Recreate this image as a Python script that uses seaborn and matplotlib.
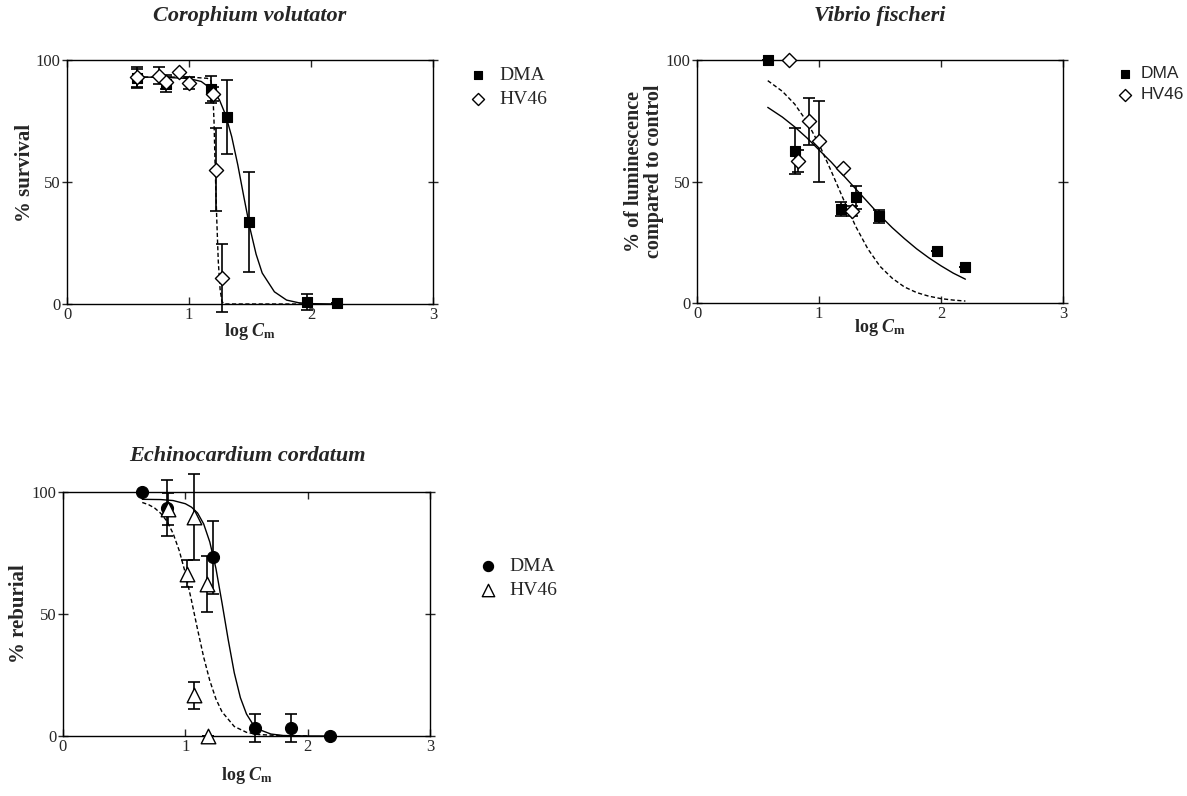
import matplotlib
matplotlib.use("Agg")
import matplotlib.pyplot as plt
import seaborn as sns

sns.set_style("ticks")
plt.rcParams['font.family'] = ['Liberation Serif', 'DejaVu Serif']
plt.rcParams['mathtext.fontset'] = 'custom'
plt.rcParams['mathtext.rm'] = 'Liberation Serif'
plt.rcParams['mathtext.it'] = 'Liberation Serif:italic'
plt.rcParams['mathtext.bf'] = 'Liberation Serif:bold'
plt.rcParams['mathtext.bfit'] = 'Liberation Serif:bold:italic'

# ---------------- data ----------------
# Corophium volutator
cv_dma_x = [0.577, 0.81, 1.18, 1.31, 1.49, 1.97, 2.21]
cv_dma_y = [92.5, 90.0, 88.0, 76.5, 33.6, 0.8, 0.4]
cv_dma_e = [4.0, 3.2, 5.6, 15.1, 20.3, 3.2, 0.0]
cv_hv_x = [0.577, 0.75, 0.81, 0.92, 1.00, 1.20, 1.22, 1.27]
cv_hv_y = [93.0, 93.5, 91.0, 95.0, 90.5, 86.0, 55.0, 10.6]
cv_hv_e = [4.0, 3.5, 3.0, 0.0, 2.5, 3.0, 17.0, 14.0]
cv_fit_dma_x = [0.577, 0.8, 1.0, 1.1, 1.2, 1.25, 1.3, 1.35, 1.4, 1.45, 1.5, 1.55, 1.6, 1.7, 1.8, 1.9, 2.0, 2.21]
cv_fit_dma_y = [93.0, 92.9, 92.4, 91.2, 87.5, 83.6, 77.5, 68.6, 57.0, 43.8, 31.0, 20.4, 12.7, 5.0, 1.6, 0.5, 0.15, 0.0]
cv_fit_hv_x = [0.577, 1.0, 1.15, 1.18, 1.195, 1.205, 1.215, 1.228, 1.24, 1.255, 1.27, 1.29, 2.0]
cv_fit_hv_y = [93.0, 93.0, 92.5, 91.5, 87.0, 75.0, 55.0, 34.0, 17.5, 6.0, 1.0, 0.0, 0.0]

# Vibrio fischeri
vf_dma_x = [0.58, 0.80, 1.18, 1.30, 1.49, 1.97, 2.20]
vf_dma_y = [100.0, 62.4, 38.7, 43.5, 35.7, 21.3, 14.9]
vf_dma_e = [0.0, 9.5, 2.7, 4.8, 2.7, 0.0, 0.0]
vf_hv_x = [0.75, 0.83, 0.92, 1.00, 1.20, 1.27]
vf_hv_y = [100.0, 58.3, 74.7, 66.5, 55.4, 38.0]
vf_hv_e = [0.0, 4.5, 9.7, 16.5, 0.0, 2.0]
vf_fit_dma_x = [0.58, 0.7, 0.8, 0.9, 1.0, 1.1, 1.2, 1.3, 1.4, 1.5, 1.6, 1.7, 1.8, 1.9, 2.0, 2.1, 2.2]
vf_fit_dma_y = [80.5, 76.5, 72.5, 68.0, 63.0, 58.0, 52.5, 47.0, 41.5, 36.0, 31.0, 26.5, 22.3, 18.6, 15.3, 12.3, 9.8]
vf_fit_hv_x = [0.58, 0.7, 0.8, 0.9, 1.0, 1.1, 1.2, 1.3, 1.4, 1.5, 1.6, 1.7, 1.8, 1.9, 2.0, 2.1, 2.2]
vf_fit_hv_y = [91.5, 87.1, 81.9, 74.7, 65.4, 54.3, 42.7, 31.6, 22.3, 15.1, 10.2, 6.6, 4.3, 2.8, 1.8, 1.2, 0.8]

# Echinocardium cordatum
ec_dma_x = [0.648, 0.85, 1.224, 1.567, 1.86, 2.18]
ec_dma_y = [100.0, 93.4, 73.2, 3.3, 3.3, 0.0]
ec_dma_e = [0.0, 11.6, 15.0, 5.6, 5.6, 0.0]
ec_hv_x = [0.857, 1.015, 1.07, 1.07, 1.175, 1.185]
ec_hv_y = [93.0, 66.5, 89.8, 16.7, 62.4, 0.0]
ec_hv_e = [6.5, 5.5, 17.5, 5.6, 11.4, 0.0]
ec_fit_dma_x = [0.648, 0.8, 0.9, 1.0, 1.05, 1.1, 1.15, 1.2, 1.25, 1.3, 1.35, 1.4, 1.45, 1.5, 1.55, 1.6, 1.7, 1.8, 2.0, 2.18]
ec_fit_dma_y = [97.0, 96.9, 96.5, 95.2, 93.8, 91.4, 86.9, 79.5, 68.7, 54.5, 39.6, 25.9, 15.7, 9.0, 5.0, 2.7, 0.8, 0.2, 0.01, 0.0]
ec_fit_hv_x = [0.648, 0.7, 0.75, 0.8, 0.85, 0.9, 0.95, 1.0, 1.05, 1.1, 1.15, 1.2, 1.25, 1.3, 1.4, 1.5, 1.6, 1.8, 2.0]
ec_fit_hv_y = [95.7, 94.8, 93.4, 91.2, 88.0, 83.0, 76.0, 66.8, 55.6, 43.7, 32.3, 22.7, 15.2, 9.9, 3.9, 1.5, 0.6, 0.1, 0.0]

x_ticks = [0, 1, 2, 3]
y_ticks = [0, 50, 100]
series_labels = ['DMA', 'HV46']

# ---------------- figure ----------------
W, H = 1187, 796
fig = plt.figure(figsize=(W / 100, H / 100), dpi=100)


def px_axes(l, t, r, b):
    return fig.add_axes([l / W, 1 - b / H, (r - l) / W, (b - t) / H])


ax1 = px_axes(67, 60, 433, 304)
ax2 = px_axes(697, 60, 1063, 303)
ax3 = px_axes(63, 492, 430, 736)

line_kw = dict(color='black', linewidth=1.0, estimator=None, sort=False, legend=False)
eb_kw = dict(fmt='none', ecolor='black', elinewidth=1.2, capsize=4.5, capthick=1.2, clip_on=False, zorder=2)


def style_axes(ax):
    ax.set_xlim(0, 3)
    ax.set_ylim(0, 100)
    ax.set_xticks(x_ticks)
    ax.set_yticks(y_ticks)
    for s in ax.spines.values():
        s.set_visible(True)
        s.set_linewidth(1.0)
        s.set_color('black')
    ax.tick_params(axis='x', which='both', direction='in', top=True, bottom=True,
                   length=5, width=1.0, labelsize=12, pad=2)
    ax.tick_params(axis='y', which='both', direction='inout', left=True, right=True,
                   length=7, width=1.0, labelsize=12, pad=1)
    for lab in ax.get_xticklabels() + ax.get_yticklabels():
        lab.set_family('Liberation Serif')
    ax.grid(False)
    ax.set_facecolor('white')


def panel(ax, dx, dy, de, hx, hy, he, fdx, fdy, fhx, fhy, m1, m2, s1, s2):
    sns.lineplot(x=fdx, y=fdy, ax=ax, linestyle='-', **line_kw)
    sns.lineplot(x=fhx, y=fhy, ax=ax, linestyle=(0, (3, 1.8)), **line_kw)
    ax.errorbar(dx, dy, yerr=de, **eb_kw)
    ax.errorbar(hx, hy, yerr=he, **eb_kw)
    sns.scatterplot(x=dx, y=dy, ax=ax, marker=m1, s=s1, color='black', edgecolor='black',
                    linewidth=0.8, label=series_labels[0], clip_on=False, zorder=4)
    sns.scatterplot(x=hx, y=hy, ax=ax, marker=m2, s=s2, color='white', edgecolor='black',
                    linewidth=1.0, label=series_labels[1], clip_on=False, zorder=5)
    for ln in ax.lines:
        ln.set_clip_on(False)
    style_axes(ax)


panel(ax1, cv_dma_x, cv_dma_y, cv_dma_e, cv_hv_x, cv_hv_y, cv_hv_e,
      cv_fit_dma_x, cv_fit_dma_y, cv_fit_hv_x, cv_fit_hv_y, 's', 'D', 58, 52)
panel(ax2, vf_dma_x, vf_dma_y, vf_dma_e, vf_hv_x, vf_hv_y, vf_hv_e,
      vf_fit_dma_x, vf_fit_dma_y, vf_fit_hv_x, vf_fit_hv_y, 's', 'D', 58, 52)
panel(ax3, ec_dma_x, ec_dma_y, ec_dma_e, ec_hv_x, ec_hv_y, ec_hv_e,
      ec_fit_dma_x, ec_fit_dma_y, ec_fit_hv_x, ec_fit_hv_y, 'o', '^', 75, 110)

# titles
title_kw = dict(ha='center', va='center', fontsize=16, fontweight='bold', fontstyle='italic',
                family='Liberation Serif')
fig.text(250 / W, 1 - 16 / H, 'Corophium volutator', **title_kw)
fig.text(880 / W, 1 - 16 / H, 'Vibrio fischeri', **title_kw)
fig.text(247 / W, 1 - 456 / H, 'Echinocardium cordatum', **title_kw)

# axis labels
xlab = r'log $\mathbfit{C}_{\mathbf{m}}$'
lab_kw = dict(fontweight='bold', family='Liberation Serif')
for ax, ypix_axes_bottom, ylab_y in [(ax1, 304, 332), (ax2, 303, 328), (ax3, 736, 776)]:
    ax.set_xlabel(xlab, va='center', fontsize=13, **lab_kw)
    ax.xaxis.set_label_coords(0.5, (ypix_axes_bottom - ylab_y) / 244)

ax1.set_ylabel('% survival', va='center', ha='center', fontsize=15, **lab_kw)
ax1.yaxis.set_label_coords((25 - 67) / 366, (304 - 173) / 244)
ax2.set_ylabel('% of luminescence\ncompared to control', va='center', ha='center',
               linespacing=1.0, fontsize=14.5, **lab_kw)
ax2.yaxis.set_label_coords((644 - 697) / 366, (303 - 171) / 243)
ax3.set_ylabel('% reburial', va='center', ha='center', fontsize=15, **lab_kw)
ax3.yaxis.set_label_coords((19 - 63) / 367, 0.5)

# legends
leg_common = dict(frameon=False, loc='upper left', labelspacing=0.35,
                  borderaxespad=0, borderpad=0, handlelength=1.0, markerscale=0.85,
                  bbox_transform=fig.transFigure)
ax1.legend(bbox_to_anchor=(468 / W, 1 - 66 / H), handletextpad=0.6,
           prop={'family': 'Liberation Serif', 'size': 14}, **leg_common)
ax2.legend(bbox_to_anchor=(1116 / W, 1 - 66 / H), handletextpad=0.4,
           prop={'family': 'Liberation Sans', 'size': 12.5}, **leg_common)
ax3.legend(bbox_to_anchor=(478 / W, 1 - 557 / H), handletextpad=0.6,
           prop={'family': 'Liberation Serif', 'size': 14}, **leg_common)

fig.savefig('out.png', dpi=100, facecolor='white')
